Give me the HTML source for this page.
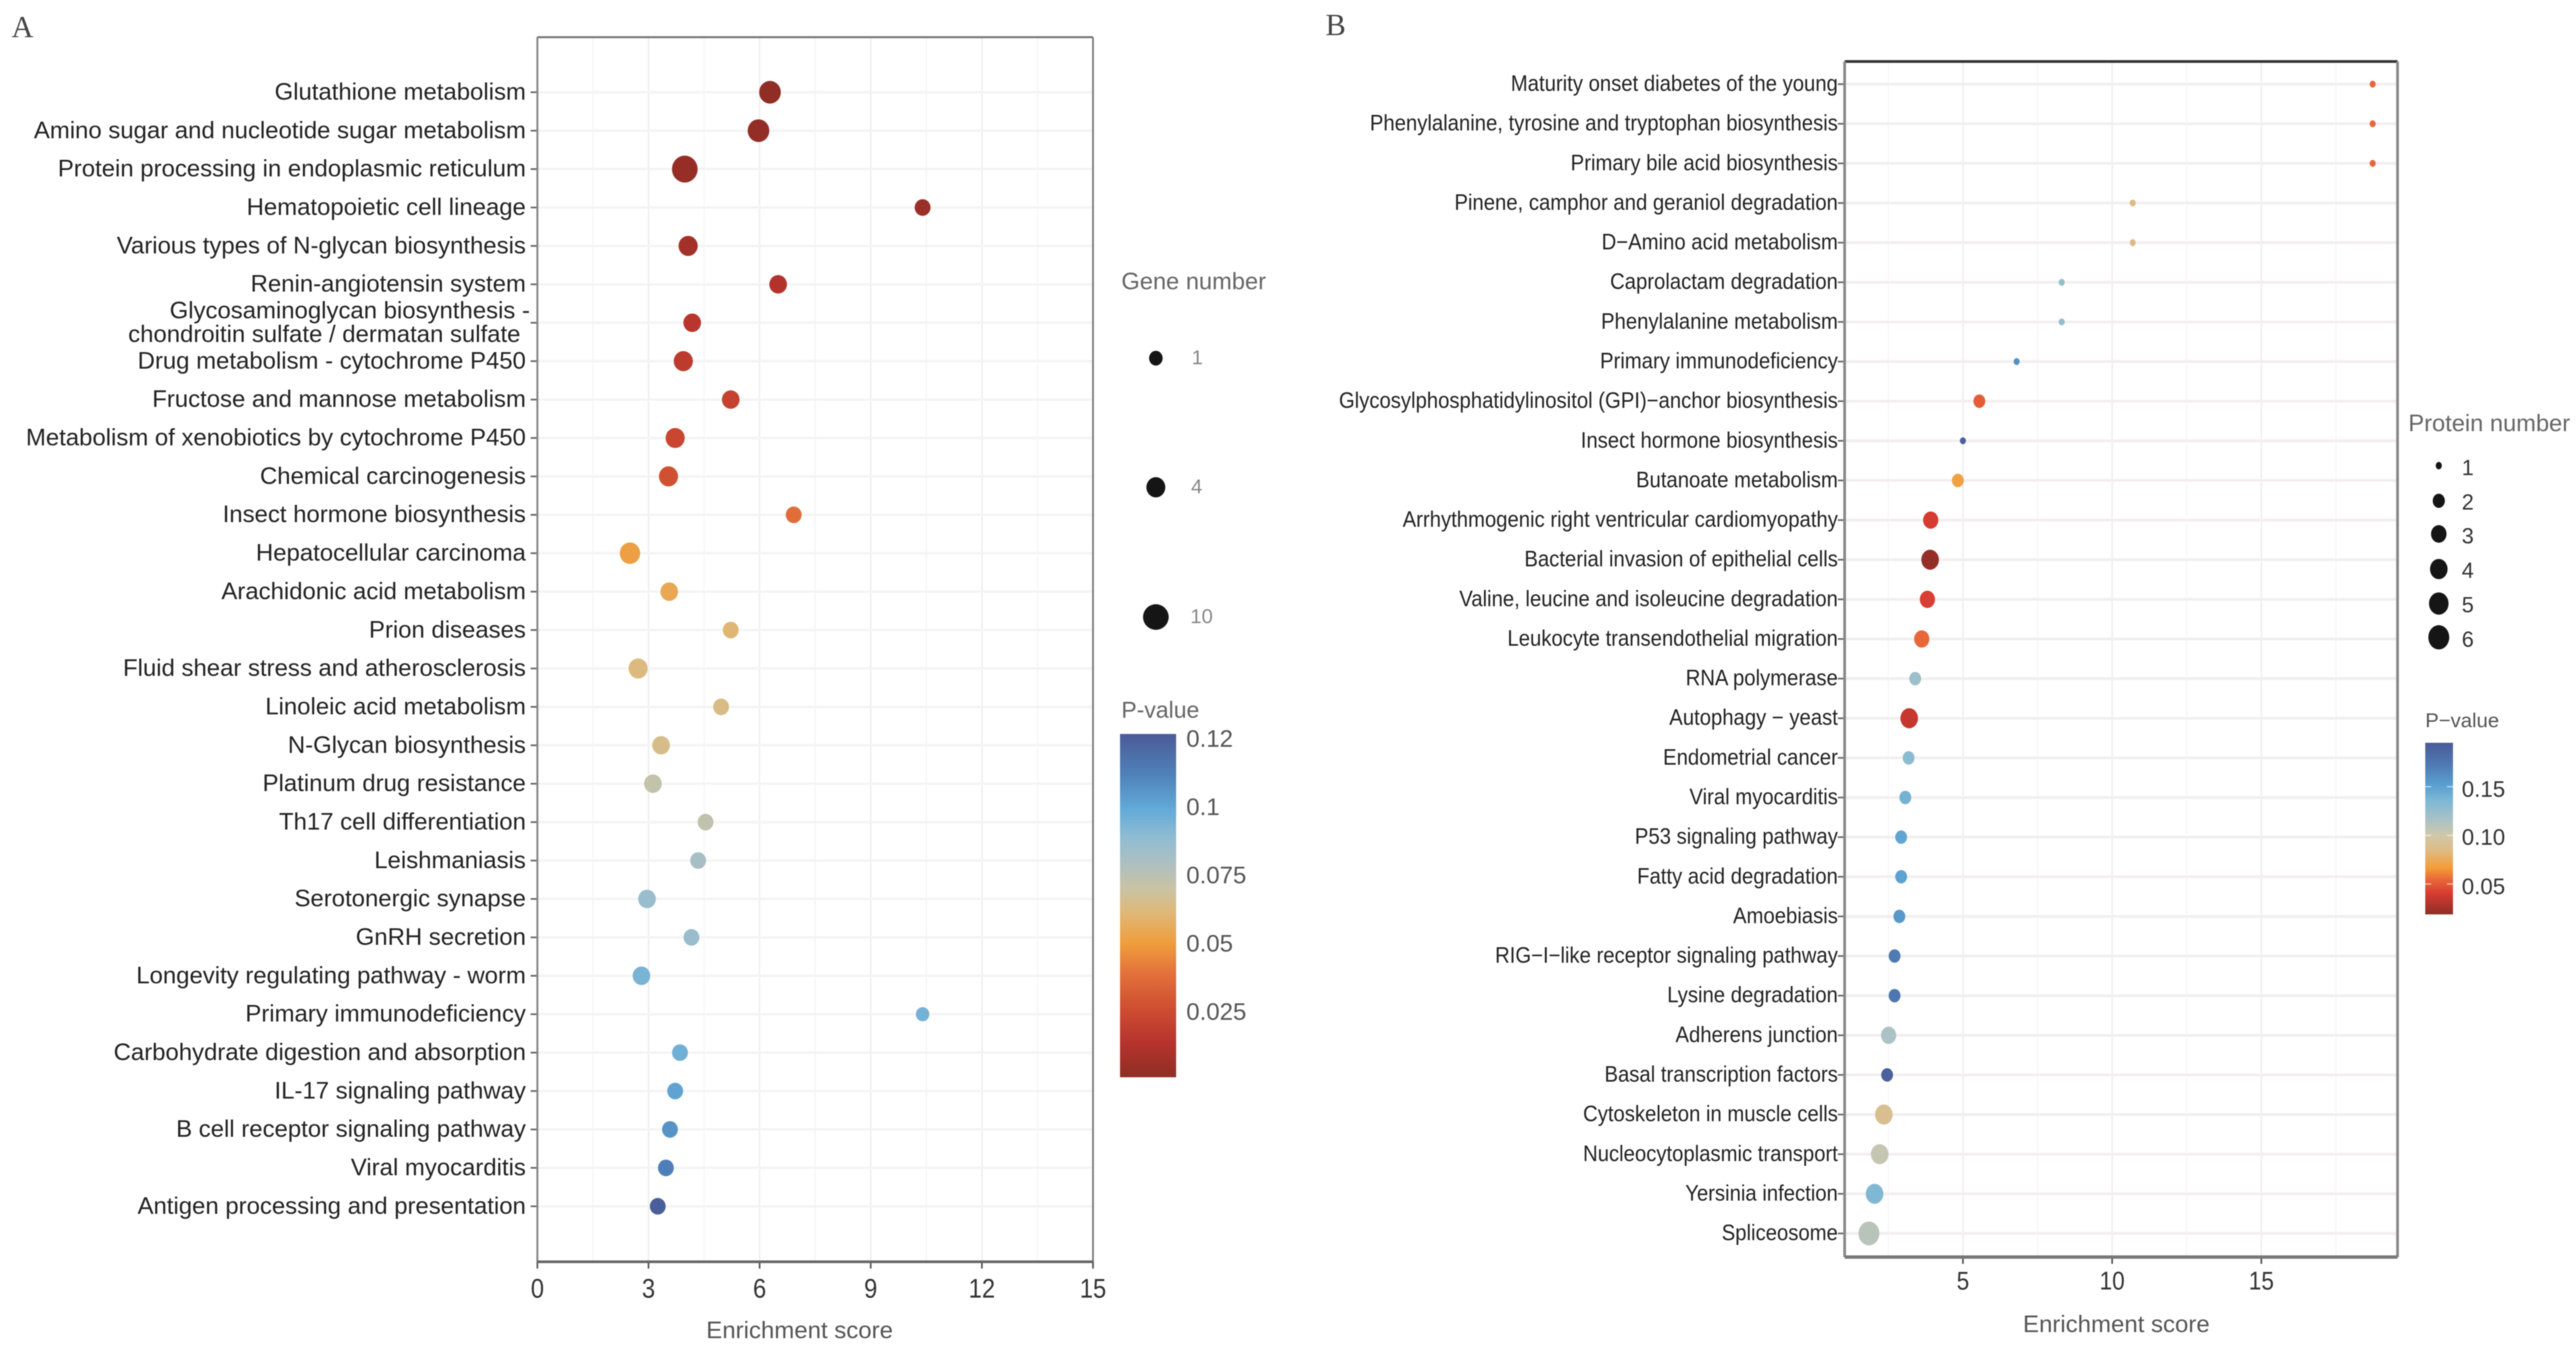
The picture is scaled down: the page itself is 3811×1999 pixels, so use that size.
<!DOCTYPE html>
<html lang="en">
<head>
<meta charset="utf-8">
<title>Enrichment dot plots</title>
<style>
html,body{margin:0;padding:0;background:#fff;width:3811px;height:1999px;overflow:hidden}
svg{display:block;filter:blur(0.9px)}
text{font-family:"Liberation Sans",Arial,sans-serif}
</style>
</head>
<body>
<svg id="figure" xmlns="http://www.w3.org/2000/svg" width="3811" height="1999" viewBox="0 0 3811 1999">
  <defs>
    <linearGradient id="cbarA" x1="0" y1="1" x2="0" y2="0">
      <stop offset="0" stop-color="#8f2d25"/><stop offset=".10" stop-color="#b5332d"/><stop offset=".19" stop-color="#cc4a30"/><stop offset=".30" stop-color="#e2703a"/><stop offset=".39" stop-color="#ef9d3c"/><stop offset=".48" stop-color="#dfb878"/><stop offset=".55" stop-color="#c9c3a4"/><stop offset=".62" stop-color="#aebfc0"/><stop offset=".70" stop-color="#8fbcd2"/><stop offset=".78" stop-color="#62aad8"/><stop offset=".88" stop-color="#4f82ba"/><stop offset="1" stop-color="#4b5a98"/>
    </linearGradient>
    <linearGradient id="cbarB" x1="0" y1="1" x2="0" y2="0">
      <stop offset="0" stop-color="#8f2d25"/><stop offset=".12" stop-color="#d63a32"/><stop offset=".2" stop-color="#e8653a"/><stop offset=".27" stop-color="#f49c35"/><stop offset=".37" stop-color="#dfba83"/><stop offset=".46" stop-color="#cfc8a8"/><stop offset=".55" stop-color="#a9c2c6"/><stop offset=".66" stop-color="#7fb8d4"/><stop offset=".75" stop-color="#5aa0d0"/><stop offset=".87" stop-color="#4f7ab2"/><stop offset="1" stop-color="#4a5a98"/>
    </linearGradient>
  </defs>
  <rect x="0" y="0" width="3811" height="1999" fill="#fff"/>
  <text x="17" y="55" font-size="45" fill="#444" style="font-family:'Liberation Serif',serif">A</text>
  <text x="1961" y="52" font-size="45" fill="#444" style="font-family:'Liberation Serif',serif">B</text>
  <g id="panelA"></g>
  <g id="panelB"></g>

  <g>
    <text x="1659" y="428" font-size="35" fill="#666">Gene number</text>
    <ellipse cx="1710" cy="530" rx="10" ry="11" fill="#151515"/>
    <text x="1763" y="539" font-size="30" fill="#888">1</text>
    <ellipse cx="1710" cy="721" rx="14" ry="15" fill="#151515"/>
    <text x="1762" y="730" font-size="30" fill="#888">4</text>
    <ellipse cx="1710" cy="913" rx="19" ry="19" fill="#151515"/>
    <text x="1761" y="922" font-size="30" fill="#888">10</text>
  </g>
  <g>
    <text x="1659" y="1062" font-size="34" fill="#666">P-value</text>
    <rect x="1657" y="1086" width="83" height="508" fill="url(#cbarA)"/>
    <text x="1755" y="1105" font-size="35.5" fill="#555">0.12</text>
    <text x="1755" y="1206" font-size="35.5" fill="#555">0.1</text>
    <text x="1755" y="1307" font-size="35.5" fill="#555">0.075</text>
    <text x="1755" y="1408" font-size="35.5" fill="#555">0.05</text>
    <text x="1755" y="1509" font-size="35.5" fill="#555">0.025</text>
  </g>

  <g>
    <text x="3563" y="638" font-size="35" fill="#666">Protein number</text>
    <ellipse cx="3608" cy="689" rx="4.5" ry="5.5" fill="#151515"/>
    <text x="3642" y="703" font-size="32" fill="#333">1</text>
    <ellipse cx="3608" cy="741" rx="9" ry="10.5" fill="#151515"/>
    <text x="3642" y="754" font-size="32" fill="#333">2</text>
    <ellipse cx="3608" cy="790" rx="11.5" ry="13" fill="#151515"/>
    <text x="3642" y="804" font-size="32" fill="#333">3</text>
    <ellipse cx="3608" cy="842" rx="13" ry="15" fill="#151515"/>
    <text x="3642" y="855" font-size="32" fill="#333">4</text>
    <ellipse cx="3608" cy="893" rx="14.5" ry="16.5" fill="#151515"/>
    <text x="3642" y="906" font-size="32" fill="#333">5</text>
    <ellipse cx="3608" cy="943" rx="15.5" ry="18" fill="#151515"/>
    <text x="3642" y="957" font-size="32" fill="#333">6</text>
  </g>
  <g>
    <text x="3588" y="1076" font-size="30" fill="#555">P−value</text>
    <rect x="3588" y="1099" width="41" height="254" fill="url(#cbarB)"/>
    <path d="M3588 1164h9M3620 1164h9M3588 1236h9M3620 1236h9M3588 1308h9M3620 1308h9" stroke="#fff" stroke-opacity=".7" stroke-width="1.5"/>
    <text x="3642" y="1179" font-size="33" fill="#333">0.15</text>
    <text x="3642" y="1250" font-size="33" fill="#333">0.10</text>
    <text x="3642" y="1323" font-size="33" fill="#333">0.05</text>
  </g>
</svg>
<script>
// ---- Panel A data ----
const categoriesA = ["Glutathione metabolism","Amino sugar and nucleotide sugar metabolism","Protein processing in endoplasmic reticulum","Hematopoietic cell lineage","Various types of N-glycan biosynthesis","Renin-angiotensin system","Glycosaminoglycan biosynthesis -\nchondroitin sulfate / dermatan sulfate","Drug metabolism - cytochrome P450","Fructose and mannose metabolism","Metabolism of xenobiotics by cytochrome P450","Chemical carcinogenesis","Insect hormone biosynthesis","Hepatocellular carcinoma","Arachidonic acid metabolism","Prion diseases","Fluid shear stress and atherosclerosis","Linoleic acid metabolism","N-Glycan biosynthesis","Platinum drug resistance","Th17 cell differentiation","Leishmaniasis","Serotonergic synapse","GnRH secretion","Longevity regulating pathway - worm","Primary immunodeficiency","Carbohydrate digestion and absorption","IL-17 signaling pathway","B cell receptor signaling pathway","Viral myocarditis","Antigen processing and presentation"];
const enrichmentA = [6.28,5.97,3.98,10.4,4.07,6.5,4.18,3.94,5.22,3.72,3.54,6.92,2.5,3.56,5.22,2.72,4.96,3.34,3.12,4.54,4.34,2.96,4.16,2.81,10.4,3.85,3.72,3.58,3.47,3.25];
const pValueA = [0.001,0.002,0.003,0.004,0.007,0.012,0.014,0.016,0.02,0.022,0.026,0.036,0.049,0.052,0.058,0.06,0.061,0.062,0.069,0.07,0.078,0.082,0.082,0.09,0.091,0.092,0.097,0.102,0.108,0.12];
const geneCountA = [6,6,10,2,4,3,3,4,3,4,4,2,5,3,2,4,2,3,3,2,2,3,2,3,1,2,2,2,2,2];
const xTicksA = [0,3,6,9,12,15];
const xMinorA = [1.5,4.5,7.5,10.5,13.5];

// ---- Panel B data ----
const categoriesB = ["Maturity onset diabetes of the young","Phenylalanine, tyrosine and tryptophan biosynthesis","Primary bile acid biosynthesis","Pinene, camphor and geraniol degradation","D−Amino acid metabolism","Caprolactam degradation","Phenylalanine metabolism","Primary immunodeficiency","Glycosylphosphatidylinositol (GPI)−anchor biosynthesis","Insect hormone biosynthesis","Butanoate metabolism","Arrhythmogenic right ventricular cardiomyopathy","Bacterial invasion of epithelial cells","Valine, leucine and isoleucine degradation","Leukocyte transendothelial migration","RNA polymerase","Autophagy − yeast","Endometrial cancer","Viral myocarditis","P53 signaling pathway","Fatty acid degradation","Amoebiasis","RIG−I−like receptor signaling pathway","Lysine degradation","Adherens junction","Basal transcription factors","Cytoskeleton in muscle cells","Nucleocytoplasmic transport","Yersinia infection","Spliceosome"];
const enrichmentB = [18.73,18.73,18.73,10.69,10.69,8.31,8.31,6.8,5.55,5.0,4.83,3.92,3.9,3.81,3.62,3.4,3.2,3.18,3.07,2.93,2.93,2.87,2.71,2.71,2.51,2.46,2.35,2.21,2.04,1.85];
const pValueB = [0.055,0.055,0.055,0.085,0.085,0.125,0.125,0.16,0.052,0.19,0.07,0.041,0.021,0.042,0.055,0.122,0.036,0.13,0.14,0.148,0.15,0.155,0.172,0.175,0.115,0.19,0.09,0.105,0.135,0.11];
const proteinCountB = [1,1,1,1,1,1,1,1,2,1,2,3,4,3,3,2,4,2,2,2,2,2,2,2,3,2,4,4,4,6];
const xTicksB = [5,10,15];
const xMinorB = [2.5,7.5,12.5,17.5];

// ---- Colour ramps (style, not data) ----
const rampA = [[0,"#8f2d25"],[.10,"#b5332d"],[.19,"#cc4a30"],[.30,"#e2703a"],[.39,"#ef9d3c"],[.48,"#dfb878"],[.55,"#c9c3a4"],[.62,"#aebfc0"],[.70,"#8fbcd2"],[.78,"#62aad8"],[.88,"#4f82ba"],[1,"#4b5a98"]];
const rampB = [[0,"#8f2d25"],[.12,"#d63a32"],[.2,"#e8653a"],[.27,"#f49c35"],[.37,"#dfba83"],[.46,"#cfc8a8"],[.55,"#a9c2c6"],[.66,"#7fb8d4"],[.75,"#5aa0d0"],[.87,"#4f7ab2"],[1,"#4a5a98"]];

function rampColor(ramp, f) {
  f = Math.max(0, Math.min(1, f));
  for (let i = 1; i < ramp.length; i++) {
    if (f <= ramp[i][0]) {
      const a = ramp[i-1], b = ramp[i], t = (f - a[0]) / (b[0] - a[0]);
      const pa = parseInt(a[1].slice(1), 16), pb = parseInt(b[1].slice(1), 16);
      const ch = s => Math.round(((pa >> s) & 255) * (1 - t) + ((pb >> s) & 255) * t);
      return "rgb(" + ch(16) + "," + ch(8) + "," + ch(0) + ")";
    }
  }
  return ramp[ramp.length-1][1];
}

const NS = "http://www.w3.org/2000/svg";
function mk(parent, tag, attrs, txt) {
  const el = document.createElementNS(NS, tag);
  for (const k in attrs) el.setAttribute(k, attrs[k]);
  if (txt !== undefined) el.textContent = txt;
  parent.appendChild(el);
  return el;
}

function drawPanel(root, cfg) {
  const xs = v => cfg.x0 + (v - cfg.dMin) * cfg.pxPerUnit;
  const ys = i => cfg.y0 + i * cfg.rowStep;

  const bg = mk(root, "rect", {x: cfg.left, y: cfg.top, width: cfg.right - cfg.left, height: cfg.bottom - cfg.top, fill: "#fff"});
  
  

  cfg.minor.forEach(v => {
    const l = mk(root, "line", {x1: xs(v), x2: xs(v), y1: cfg.top, y2: cfg.bottom, stroke: "#f3f3f3", "stroke-width": 1.5});
    
    
  });
  cfg.ticks.forEach(v => {
    const l = mk(root, "line", {x1: xs(v), x2: xs(v), y1: cfg.top, y2: cfg.bottom, stroke: "#ececec", "stroke-width": 2});
    
    
  });
  cfg.cats.forEach((c, i) => {
    const l = mk(root, "line", {x1: cfg.left, x2: cfg.right, y1: ys(i), y2: ys(i), stroke: cfg.rowColor, "stroke-width": cfg.rowWidth});
    
    
  });

  cfg.cats.forEach((c, i) => {
    const t = mk(root, "line", {x1: cfg.left - 10, x2: cfg.left, y1: ys(i), y2: ys(i), stroke: "#666", "stroke-width": 2.5});
    
    
    const lines = c.split("\n");
    lines.forEach((ln, k) => {
      const yy = ys(i) + cfg.labelDy + (k - (lines.length - 1) / 2) * 35;
      const x = cfg.labelEnd + (lines.length > 1 ? (k === 0 ? 6 : -8) : 0);
      const lab = mk(root, "text", {transform: "translate(" + x + "," + yy + ") scale(" + cfg.labelSx + ",1)", "text-anchor": "end", "font-size": cfg.labelSize, fill: "#222"}, ln);
      
      
    });
  });

  cfg.ticks.forEach(v => {
    const t = mk(root, "line", {x1: xs(v), x2: xs(v), y1: cfg.bottom, y2: cfg.bottom + 10, stroke: "#555", "stroke-width": 2.5});
    
    
    const lab = mk(root, "text", {transform: "translate(" + xs(v) + "," + cfg.tickY + ") scale(" + cfg.tickSx + ",1)", "text-anchor": "middle", "font-size": cfg.tickSize, fill: "#333"}, String(v));
    
    
  });

  const title = mk(root, "text", {x: cfg.titleX, y: cfg.titleY, "text-anchor": "middle", "font-size": 35.5, fill: "#555"}, "Enrichment score");
  
  

  cfg.values.forEach((v, i) => {
    const r = cfg.radius(cfg.counts[i]);
    const dot = mk(root, "ellipse", {cx: xs(v), cy: ys(i), rx: r, ry: r * cfg.yStretch, fill: rampColor(cfg.ramp, (cfg.pvals[i] - cfg.pMin) / (cfg.pMax - cfg.pMin))});
    
    
  });

  cfg.borders.forEach(b => {
    const l = mk(root, "line", {x1: b[0], y1: b[1], x2: b[2], y2: b[3], stroke: b[4], "stroke-width": b[5]});
    
    
  });
}

drawPanel(document.getElementById("panelA"), {
  left: 795, right: 1617, top: 55, bottom: 1867,
  x0: 795, dMin: 0, pxPerUnit: 54.8,
  y0: 136.5, rowStep: 56.84,
  cats: categoriesA, values: enrichmentA, pvals: pValueA, counts: geneCountA,
  ticks: xTicksA, minor: xMinorA,
  ramp: rampA, pMin: 0.0007, pMax: 0.1215,
  radius: n => 5.84 + 4.16 * Math.sqrt(n), yStretch: 1.05,
  rowColor: "#f4f4f4", rowWidth: 3.5,
  labelEnd: 778, labelDy: 11, labelSize: 35.4, labelSx: 1,
  tickY: 1920, tickSize: 40, tickSx: 0.88,
  titleX: 1183, titleY: 1980,
  borders: [[795,55,1617,55,"#777",3],[795,55,795,1867,"#888",3],[1617,55,1617,1867,"#777",2.5],[795,1867,1617,1867,"#666",4]]
});

drawPanel(document.getElementById("panelB"), {
  left: 2729, right: 3547, top: 91, bottom: 1860,
  x0: 2904, dMin: 5, pxPerUnit: 44.15,
  y0: 124.5, rowStep: 58.64,
  cats: categoriesB, values: enrichmentB, pvals: pValueB, counts: proteinCountB,
  ticks: xTicksB, minor: xMinorB,
  ramp: rampB, pMin: 0.0196, pMax: 0.195,
  radius: n => 4.5 + 6.14 * Math.log(n), yStretch: 1.14,
  rowColor: "#f3eeef", rowWidth: 4,
  labelEnd: 2719, labelDy: 10, labelSize: 33, labelSx: 0.91,
  tickY: 1908, tickSize: 38, tickSx: 0.88,
  titleX: 3131, titleY: 1971,
  borders: [[2729,91,3547,91,"#333",4],[2729,91,2729,1860,"#888",4],[3547,91,3547,1860,"#888",4],[2729,1860,3547,1860,"#777",5]]
});
</script>
</body>
</html>
